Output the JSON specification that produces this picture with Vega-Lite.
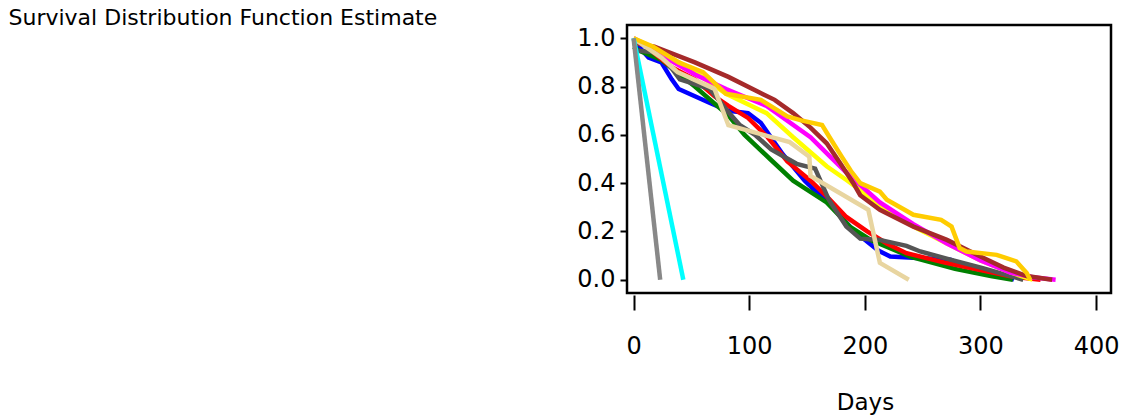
{
  "$schema": "https://vega.github.io/schema/vega-lite/v6.json",
  "autosize": {"type": "none"},
  "padding": {"left": 627, "top": 25, "right": 20, "bottom": 122},
  "width": 484,
  "height": 268,
  "background": "white",
  "config": {
    "view": {"stroke": "black", "strokeWidth": 2.5},
    "font": "DejaVu Sans"
  },
  "data": {
    "values": [
      {"s": "A", "d": 0, "v": 0.99}, {"s": "A", "d": 13, "v": 0.92}, {"s": "A", "d": 24, "v": 0.9}, {"s": "A", "d": 33, "v": 0.83}, {"s": "A", "d": 39, "v": 0.79}, {"s": "A", "d": 53, "v": 0.76}, {"s": "A", "d": 67, "v": 0.73}, {"s": "A", "d": 82, "v": 0.7}, {"s": "A", "d": 99, "v": 0.69}, {"s": "A", "d": 110, "v": 0.65}, {"s": "A", "d": 129, "v": 0.52}, {"s": "A", "d": 148, "v": 0.41}, {"s": "A", "d": 172, "v": 0.3}, {"s": "A", "d": 191, "v": 0.2}, {"s": "A", "d": 212, "v": 0.12}, {"s": "A", "d": 222, "v": 0.096}, {"s": "A", "d": 274, "v": 0.083}, {"s": "A", "d": 285, "v": 0.06}, {"s": "A", "d": 309, "v": 0.03}, {"s": "A", "d": 329, "v": 0.0},
      {"s": "B", "d": 0, "v": 0.965}, {"s": "B", "d": 4, "v": 0.95}, {"s": "B", "d": 24, "v": 0.91}, {"s": "B", "d": 53, "v": 0.8}, {"s": "B", "d": 82, "v": 0.68}, {"s": "B", "d": 96, "v": 0.6}, {"s": "B", "d": 118, "v": 0.5}, {"s": "B", "d": 138, "v": 0.41}, {"s": "B", "d": 167, "v": 0.32}, {"s": "B", "d": 187, "v": 0.22}, {"s": "B", "d": 205, "v": 0.165}, {"s": "B", "d": 239, "v": 0.096}, {"s": "B", "d": 278, "v": 0.045}, {"s": "B", "d": 309, "v": 0.015}, {"s": "B", "d": 328, "v": 0.0},
      {"s": "C", "d": 0, "v": 0.99}, {"s": "C", "d": 7, "v": 0.98}, {"s": "C", "d": 33, "v": 0.88}, {"s": "C", "d": 53, "v": 0.83}, {"s": "C", "d": 70, "v": 0.76}, {"s": "C", "d": 82, "v": 0.72}, {"s": "C", "d": 99, "v": 0.67}, {"s": "C", "d": 116, "v": 0.59}, {"s": "C", "d": 133, "v": 0.49}, {"s": "C", "d": 153, "v": 0.41}, {"s": "C", "d": 167, "v": 0.345}, {"s": "C", "d": 184, "v": 0.26}, {"s": "C", "d": 202, "v": 0.2}, {"s": "C", "d": 219, "v": 0.15}, {"s": "C", "d": 236, "v": 0.11}, {"s": "C", "d": 270, "v": 0.07}, {"s": "C", "d": 300, "v": 0.04}, {"s": "C", "d": 325, "v": 0.015}, {"s": "C", "d": 352, "v": 0.0},
      {"s": "D", "d": 0, "v": 0.95}, {"s": "D", "d": 23, "v": 0.94}, {"s": "D", "d": 40, "v": 0.83}, {"s": "D", "d": 66, "v": 0.79}, {"s": "D", "d": 81, "v": 0.7}, {"s": "D", "d": 92, "v": 0.64}, {"s": "D", "d": 105, "v": 0.6}, {"s": "D", "d": 119, "v": 0.54}, {"s": "D", "d": 141, "v": 0.48}, {"s": "D", "d": 157, "v": 0.46}, {"s": "D", "d": 169, "v": 0.33}, {"s": "D", "d": 184, "v": 0.22}, {"s": "D", "d": 196, "v": 0.17}, {"s": "D", "d": 213, "v": 0.165}, {"s": "D", "d": 236, "v": 0.14}, {"s": "D", "d": 248, "v": 0.117}, {"s": "D", "d": 274, "v": 0.083}, {"s": "D", "d": 302, "v": 0.048}, {"s": "D", "d": 337, "v": 0.0},
      {"s": "E", "d": 0, "v": 1.0}, {"s": "E", "d": 25, "v": 0.94}, {"s": "E", "d": 50, "v": 0.87}, {"s": "E", "d": 80, "v": 0.77}, {"s": "E", "d": 115, "v": 0.69}, {"s": "E", "d": 138, "v": 0.59}, {"s": "E", "d": 167, "v": 0.47}, {"s": "E", "d": 185, "v": 0.41}, {"s": "E", "d": 213, "v": 0.31}, {"s": "E", "d": 242, "v": 0.22}, {"s": "E", "d": 271, "v": 0.15}, {"s": "E", "d": 300, "v": 0.08}, {"s": "E", "d": 326, "v": 0.03}, {"s": "E", "d": 345, "v": 0.0},
      {"s": "F", "d": 0, "v": 1.0}, {"s": "F", "d": 24, "v": 0.93}, {"s": "F", "d": 53, "v": 0.85}, {"s": "F", "d": 80, "v": 0.79}, {"s": "F", "d": 115, "v": 0.72}, {"s": "F", "d": 153, "v": 0.59}, {"s": "F", "d": 170, "v": 0.51}, {"s": "F", "d": 185, "v": 0.44}, {"s": "F", "d": 213, "v": 0.32}, {"s": "F", "d": 242, "v": 0.23}, {"s": "F", "d": 271, "v": 0.15}, {"s": "F", "d": 300, "v": 0.08}, {"s": "F", "d": 326, "v": 0.03}, {"s": "F", "d": 345, "v": 0.01}, {"s": "F", "d": 365, "v": 0.0},
      {"s": "G", "d": 0, "v": 0.98}, {"s": "G", "d": 18, "v": 0.965}, {"s": "G", "d": 53, "v": 0.9}, {"s": "G", "d": 82, "v": 0.84}, {"s": "G", "d": 109, "v": 0.775}, {"s": "G", "d": 122, "v": 0.745}, {"s": "G", "d": 138, "v": 0.69}, {"s": "G", "d": 153, "v": 0.63}, {"s": "G", "d": 167, "v": 0.565}, {"s": "G", "d": 179, "v": 0.48}, {"s": "G", "d": 190, "v": 0.4}, {"s": "G", "d": 196, "v": 0.35}, {"s": "G", "d": 213, "v": 0.29}, {"s": "G", "d": 242, "v": 0.22}, {"s": "G", "d": 271, "v": 0.165}, {"s": "G", "d": 300, "v": 0.096}, {"s": "G", "d": 320, "v": 0.05}, {"s": "G", "d": 340, "v": 0.015}, {"s": "G", "d": 362, "v": 0.0},
      {"s": "H", "d": 0, "v": 1.0}, {"s": "H", "d": 24, "v": 0.92}, {"s": "H", "d": 38, "v": 0.86}, {"s": "H", "d": 70, "v": 0.79}, {"s": "H", "d": 82, "v": 0.64}, {"s": "H", "d": 135, "v": 0.57}, {"s": "H", "d": 152, "v": 0.51}, {"s": "H", "d": 153, "v": 0.43}, {"s": "H", "d": 203, "v": 0.29}, {"s": "H", "d": 213, "v": 0.07}, {"s": "H", "d": 238, "v": 0.0},
      {"s": "I", "d": 0, "v": 1.0}, {"s": "I", "d": 17, "v": 0.965}, {"s": "I", "d": 39, "v": 0.9}, {"s": "I", "d": 60, "v": 0.86}, {"s": "I", "d": 80, "v": 0.77}, {"s": "I", "d": 110, "v": 0.745}, {"s": "I", "d": 133, "v": 0.676}, {"s": "I", "d": 145, "v": 0.66}, {"s": "I", "d": 163, "v": 0.641}, {"s": "I", "d": 170, "v": 0.586}, {"s": "I", "d": 180, "v": 0.51}, {"s": "I", "d": 188, "v": 0.45}, {"s": "I", "d": 196, "v": 0.4}, {"s": "I", "d": 213, "v": 0.365}, {"s": "I", "d": 219, "v": 0.331}, {"s": "I", "d": 242, "v": 0.269}, {"s": "I", "d": 266, "v": 0.248}, {"s": "I", "d": 275, "v": 0.22}, {"s": "I", "d": 282, "v": 0.131}, {"s": "I", "d": 288, "v": 0.117}, {"s": "I", "d": 314, "v": 0.103}, {"s": "I", "d": 331, "v": 0.076}, {"s": "I", "d": 340, "v": 0.028}, {"s": "I", "d": 343, "v": 0.0},
      {"s": "J", "d": 0, "v": 1.0}, {"s": "J", "d": 43, "v": 0.0},
      {"s": "K", "d": 0, "v": 1.0}, {"s": "K", "d": 23, "v": 0.0}
    ]
  },
  "mark": {"type": "line", "strokeWidth": 4.5, "strokeJoin": "miter", "clip": true},
  "encoding": {
    "x": {
      "field": "d", "type": "quantitative",
      "scale": {"domain": [-5.7, 412.9], "nice": false, "zero": false},
      "axis": {
        "title": "Days", "values": [0, 100, 200, 300, 400], "format": "d",
        "grid": false, "domain": false, "offset": 2,
        "tickSize": 15, "tickWidth": 2, "tickColor": "black",
        "labelFont": "DejaVu Sans", "labelFontSize": 24, "labelColor": "black", "labelPadding": 24,
        "titleFont": "DejaVu Sans", "titleFontSize": 23, "titleFontWeight": "normal", "titleColor": "black",
        "titleBaseline": "alphabetic", "titleY": 114, "titleX": 238
      }
    },
    "y": {
      "field": "v", "type": "quantitative",
      "scale": {"domain": [-0.055, 1.055], "nice": false, "zero": false},
      "axis": {
        "title": "Survival Distribution Function Estimate",
        "values": [0, 0.2, 0.4, 0.6, 0.8, 1.0], "format": ".1f",
        "grid": false, "domain": false,
        "tickSize": 7, "tickWidth": 2, "tickColor": "black",
        "labelFont": "DejaVu Sans", "labelFontSize": 24, "labelColor": "black", "labelPadding": 5,
        "titleFont": "DejaVu Sans", "titleFontSize": 22, "titleFontWeight": "normal", "titleColor": "black",
        "titleAngle": 0, "titleAlign": "left", "titleBaseline": "alphabetic", "titleX": -619, "titleY": -1
      }
    },
    "color": {
      "field": "s", "type": "nominal", "legend": null,
      "scale": {
        "domain": ["A", "B", "C", "D", "E", "F", "G", "H", "I", "J", "K"],
        "range": ["#0000FF", "#008000", "#FF0000", "#555555", "#FFFF00", "#FF00FF", "#A52A2A", "#E8D5A0", "#FFCC00", "#00FFFF", "#888888"]
      }
    }
  }
}
